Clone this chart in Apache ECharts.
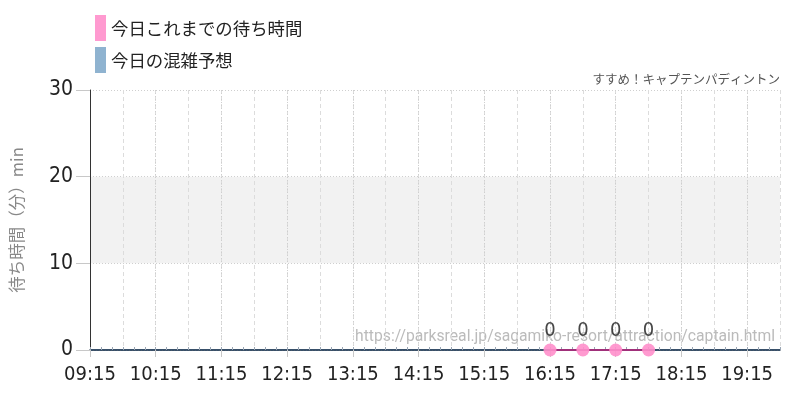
<!DOCTYPE html>
<html>
<head>
<meta charset="utf-8">
<title>待ち時間</title>
<script src="https://cdn.jsdelivr.net/npm/echarts@6/dist/echarts.min.js"></script>
<style>
    html, body { margin: 0; padding: 0; background: #fff; }
    #chart { width: 800px; height: 400px; }
</style>
</head>
<body>
<div id="chart"></div>
<script>
    // 分単位の時刻 (09:15 = 555)
    var axisStart = 555;
    var axisEnd = 1185;
    var hourTicks = [555, 615, 675, 735, 795, 855, 915, 975, 1035, 1095, 1155];
    var hourLabels = ['09:15', '10:15', '11:15', '12:15', '13:15', '14:15', '15:15', '16:15', '17:15', '18:15', '19:15'];

    // 今日これまでの待ち時間
    var waitTimes = [975, 1005, 1035, 1065];
    var waitValues = [0, 0, 0, 0];

    // 今日の混雑予想
    var forecastTimes = [555, 585, 615, 645, 675, 705, 735, 765, 795, 825, 855, 885, 915, 945, 975, 1005, 1035, 1065, 1095, 1125, 1155, 1185];
    var forecastValues = [0, 0, 0, 0, 0, 0, 0, 0, 0, 0, 0, 0, 0, 0, 0, 0, 0, 0, 0, 0, 0, 0];

    var yTicks = [0, 10, 20, 30];
    var bandRange = [10, 20];

    var jpFont = "'Noto Sans CJK JP', sans-serif";
    // 数字は細長い書体に近づける (DejaVu Sans Condensed)
    var numStretch = 'condensed';
    var numFont = "'DejaVu Sans', sans-serif";

    function pairs(xs, ys) {
        return xs.map(function (x, i) { return [x, ys[i]]; });
    }

    var option = {
        animation: false,
        textStyle: { fontFamily: jpFont },
        title: {
            text: 'すすめ！キャプテンパディントン',
            right: 15,
            top: 68,
            textStyle: { fontSize: 12.5, fontWeight: 'normal', color: '#555', fontFamily: jpFont }
        },
        legend: {
            orient: 'vertical',
            left: 90,
            top: 10,
            itemWidth: 11,
            itemHeight: 26,
            itemGap: 6,
            icon: 'rect',
            textStyle: { fontSize: 17.4, color: '#222', fontFamily: jpFont },
            data: ['今日これまでの待ち時間', '今日の混雑予想']
        },
        graphic: [{
            type: 'text',
            right: 25,
            top: 329,
            silent: true,
            z: 1,
            style: {
                text: 'https://parksreal.jp/sagamiko-resort/attraction/captain.html',
                fill: '#bbb',
                fontSize: 15.7,
                fontFamily: "'Roboto', sans-serif"
            }
        }],
        grid: {
            left: 90,
            right: 20,
            top: 90,
            bottom: 50,
            outerBoundsMode: 'none'
        },
        xAxis: [{
            // 30分ごとの破線
            type: 'value',
            position: 'bottom',
            min: axisStart,
            max: axisEnd,
            interval: 30,
            z: 3,
            axisLine: { show: true, onZero: false, lineStyle: { color: '#1d3048', width: 1.5 } },
            axisTick: { show: false },
            axisLabel: { show: false },
            splitLine: { show: true, lineStyle: { color: '#dcdcdc', type: [4, 3] } }
        }, {
            // 1時間ごとのラベル
            type: 'value',
            position: 'bottom',
            min: axisStart,
            max: axisEnd,
            interval: 60,
            z: 3,
            axisLine: { show: false, onZero: false },
            axisTick: { show: true, length: 7, customValues: hourTicks, lineStyle: { color: '#c8c8c8' } },
            axisLabel: {
                customValues: hourTicks,
                margin: 15,
                fontSize: 20,
                color: '#222',
                fontStyle: numStretch,
                fontFamily: numFont,
                formatter: function (v) {
                    var i = hourTicks.indexOf(v);
                    return i >= 0 ? hourLabels[i] : '';
                }
            },
            splitLine: { show: true, lineStyle: { color: '#cfcfcf', type: [1, 2] } }
        }, {
            // 10分ごとの小目盛
            type: 'value',
            position: 'bottom',
            min: axisStart,
            max: axisEnd,
            interval: 10,
            z: 3,
            axisLine: { show: false, onZero: false },
            axisTick: { show: true, inside: true, length: 3, lineStyle: { color: '#9aa6b4' } },
            axisLabel: { show: false },
            splitLine: { show: false }
        }],
        yAxis: {
            type: 'value',
            min: 0,
            max: 30,
            interval: 10,
            z: 3,
            name: '待ち時間（分）min',
            nameLocation: 'middle',
            nameGap: 65,
            nameTextStyle: { fontSize: 16.5, color: '#888', fontFamily: jpFont },
            axisLine: { show: true, lineStyle: { color: '#333' } },
            axisTick: { show: true, length: 14, lineStyle: { color: '#c8c8c8' } },
            axisLabel: {
                margin: 17,
                fontSize: 21,
                color: '#222',
                fontStyle: numStretch,
                fontFamily: numFont,
                customValues: yTicks
            },
            splitLine: { show: true, lineStyle: { color: '#cfcfcf', type: [1, 2] } }
        },
        series: [{
            name: '今日の混雑予想',
            type: 'line',
            xAxisIndex: 0,
            data: pairs(forecastTimes, forecastValues),
            showSymbol: false,
            color: '#8fb3d0',
            lineStyle: { color: '#8fb3d0', width: 2 },
            z: 2,
            markArea: {
                silent: true,
                itemStyle: { color: '#f2f2f2' },
                data: [[{ yAxis: bandRange[0] }, { yAxis: bandRange[1] }]]
            }
        }, {
            name: '今日これまでの待ち時間',
            type: 'line',
            xAxisIndex: 0,
            data: pairs(waitTimes, waitValues),
            color: '#ff8fcb',
            symbol: 'circle',
            symbolSize: 13,
            itemStyle: { color: '#ff8fcb', opacity: 0.9 },
            lineStyle: { color: '#a0307a', width: 2 },
            label: {
                show: true,
                position: 'top',
                distance: 3,
                fontSize: 20,
                color: '#333',
                fontStyle: numStretch,
                fontFamily: numFont
            },
            z: 5
        }]
    };

    var myChart = echarts.init(document.getElementById('chart'));
    myChart.setOption(option);
</script>
</body>
</html>
